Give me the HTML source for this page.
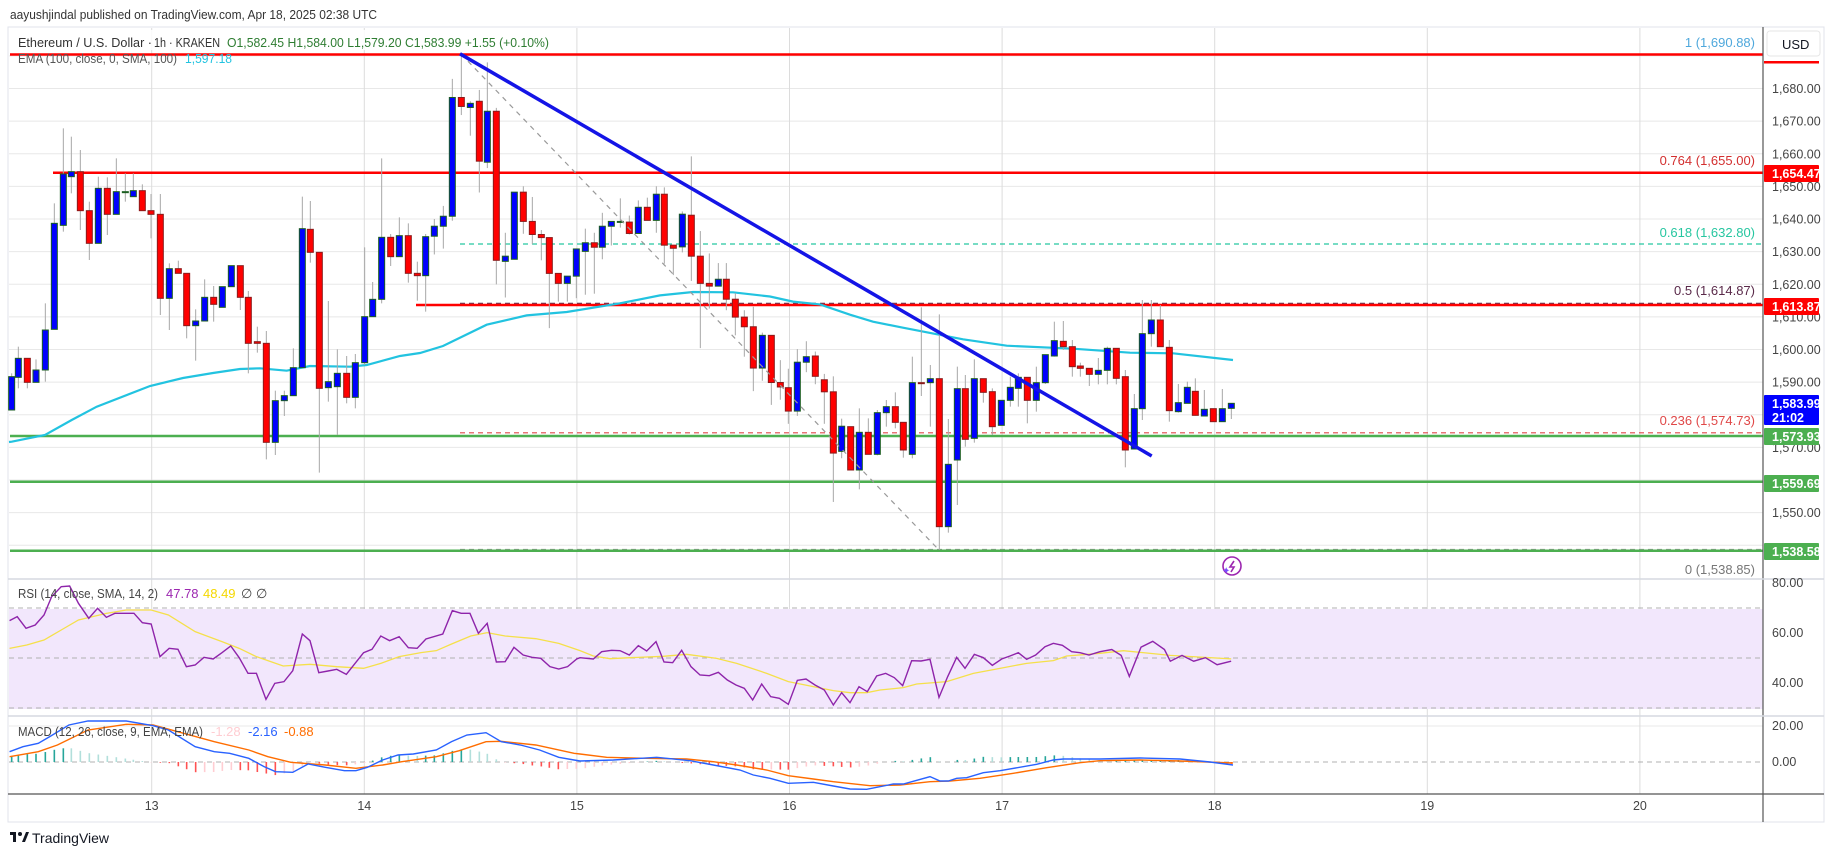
<!DOCTYPE html>
<html><head><meta charset="utf-8"><style>
html,body{margin:0;padding:0;background:#fff;}
svg{display:block;font-family:"Liberation Sans",sans-serif;}
</style></head><body>
<svg id="s" width="1835" height="857" viewBox="0 0 1835 857" xmlns="http://www.w3.org/2000/svg">
<rect width="1835" height="857" fill="#fff"/>
<text x="10" y="19" font-size="13" fill="#333" textLength="367" lengthAdjust="spacingAndGlyphs">aayushjindal published on TradingView.com, Apr 18, 2025 02:38 UTC</text>
<rect x="8" y="27" width="1816" height="795" fill="#fff" stroke="#e0e3eb"/>
<g id="grid"></g>
<rect x="9" y="609" width="1754" height="100" fill="#f2e7fc"/>
<g id="lines"></g>
<g id="candles"></g>
<g id="over"></g>
<line x1="1763" y1="27" x2="1763" y2="822" stroke="#555" stroke-width="1.2"/>
<line x1="8" y1="794" x2="1824" y2="794" stroke="#555" stroke-width="1.2"/>
<line x1="8" y1="579" x2="1824" y2="579" stroke="#d6d9e0" stroke-width="1.5"/>
<line x1="8" y1="716" x2="1824" y2="716" stroke="#d6d9e0" stroke-width="1.5"/>
<g id="axis" font-size="12.5" fill="#444"></g>
<rect x="12" y="30" width="540" height="20" fill="#fff" opacity="0.85"/>
<text x="18" y="47" font-size="13" fill="#333" textLength="134" lengthAdjust="spacingAndGlyphs">Ethereum / U.S. Dollar ·</text>
<text x="154" y="47" font-size="13" fill="#333" textLength="66" lengthAdjust="spacingAndGlyphs">1h · KRAKEN</text>
<text x="227" y="47" font-size="13" fill="#2e7d32" textLength="322" lengthAdjust="spacingAndGlyphs">O1,582.45  H1,584.00  L1,579.20  C1,583.99  +1.55 (+0.10%)</text>
<text x="18" y="63" font-size="13" fill="#555" textLength="159" lengthAdjust="spacingAndGlyphs">EMA (100, close, 0, SMA, 100)</text>
<text x="185" y="63" font-size="13" fill="#22c3e0" textLength="47" lengthAdjust="spacingAndGlyphs">1,597.18</text>
<text x="18" y="598" font-size="13" fill="#444" textLength="140" lengthAdjust="spacingAndGlyphs">RSI (14, close, SMA, 14, 2)</text>
<text x="166" y="598" font-size="13" fill="#9c27b0">47.78</text>
<text x="203" y="598" font-size="13" fill="#f5d800">48.49</text>
<text x="241" y="598" font-size="13" fill="#444">∅</text><text x="256" y="598" font-size="13" fill="#444">∅</text>
<text x="18" y="736" font-size="13" fill="#444" textLength="185" lengthAdjust="spacingAndGlyphs">MACD (12, 26, close, 9, EMA, EMA)</text>
<text x="211" y="736" font-size="13" fill="#ffcdd2">-1.28</text>
<text x="248" y="736" font-size="13" fill="#2962ff">-2.16</text>
<text x="284" y="736" font-size="13" fill="#ff6d00">-0.88</text>
<g font-size="13" text-anchor="end">
<text x="1755" y="47" fill="#4fa8dc">1 (1,690.88)</text>
<text x="1755" y="165" fill="#d32f2f">0.764 (1,655.00)</text>
<text x="1755" y="237" fill="#26c6a0">0.618 (1,632.80)</text>
<text x="1755" y="295" fill="#5a2a4a">0.5 (1,614.87)</text>
<text x="1755" y="425" fill="#e04848">0.236 (1,574.73)</text>
<text x="1755" y="574" fill="#777">0 (1,538.85)</text>
</g>
<g transform="translate(1232,566)" fill="none" stroke="#9c27b0" stroke-width="1.6"><circle r="9"/><path d="M2,-5 L-2,1 L2,1 L-1,6" /></g>
<text x="1222" y="574" font-size="10" fill="#7c4dff">✦</text>
<rect x="1767" y="31" width="53" height="25" rx="3" fill="#fff" stroke="#e6e6e6"/>
<text x="1782" y="49" font-size="13" fill="#131722">USD</text>
<g transform="translate(10,832)"><rect x="0" y="0" width="6" height="3" fill="#131722"/><rect x="3" y="0" width="3" height="10" fill="#131722"/><circle cx="10" cy="2" r="2" fill="#131722"/><path d="M12,10 L16,0 L19,0 L15,10Z" fill="#131722"/></g>
<text x="32" y="843" font-size="14" fill="#131722">TradingView</text>
</svg>
<script>
const NS="http://www.w3.org/2000/svg";
function el(p,t,a,txt){const e=document.createElementNS(NS,t);for(const k in a)e.setAttribute(k,a[k]);if(txt!==undefined)e.textContent=txt;document.getElementById(p).appendChild(e);return e;}
const PY=p=>349.5-(p-1600)*3.2625;
for(let p=1540;p<=1690;p+=10){el('grid','line',{x1:9,x2:1763,y1:PY(p),y2:PY(p),stroke:'#e8e8e8'});}
[633,683].forEach(y=>el('grid','line',{x1:9,x2:1763,y1:y,y2:y,stroke:'#e8e8e8'}));
el('grid','line',{x1:9,x2:1763,y1:726,y2:726,stroke:'#e8e8e8'});
for(let d=13;d<=20;d++){const x=151.7+(d-13)*212.6;el('grid','line',{x1:x,x2:x,y1:28,y2:794,stroke:'#dcdcdc'});
 el('axis','text',{x:x,y:810,'text-anchor':'middle'},String(d));}
[608,658,708].forEach(y=>el('lines','line',{x1:9,x2:1763,y1:y,y2:y,stroke:'#b0b0b0','stroke-dasharray':'5,4'}));
el('lines','line',{x1:9,x2:1763,y1:762,y2:762,stroke:'#b0b0b0','stroke-dasharray':'5,4'});
function hl(y,x1,c,w,da){el('lines','line',{x1:x1,x2:1763,y1:y,y2:y,stroke:c,'stroke-width':w,'stroke-dasharray':da||'none'});}
hl(54.5,460,'#64b5f6',1.2,'5,4');
hl(244,460,'#26c6a0',1.2,'5,4');
hl(303.3,460,'#5a2a4a',1.2,'5,4');
hl(432.8,460,'#e04848',1.2,'5,4');
hl(549.5,460,'#999',1.2,'5,4');
hl(54.5,10,'#ff0000',2.5);
hl(172.7,53,'#ff0000',2.5);
hl(305,416,'#ff0000',2.5);
hl(436,10,'#4caf50',2.5);
hl(481.7,10,'#4caf50',2.5);
hl(550.7,10,'#4caf50',2.5);
const ema=[[9,442],[11.7,441.7],[45,435],[71.7,420],[96.7,406.7],[150,386],[183,378],[213,373],[240,369],[260,368.3],[286.7,370.7],[310,366],[350,366.7],[366.7,365],[400,356],[420,353],[443,346],[486.7,324.7],[526.7,315.4],[566.7,312],[620,303.3],[660,295.4],[693,292],[733,292.3],[770,296.5],[793,301.6],[820,304.4],[850,314.7],[873,321.7],[903,327.7],[963,339.3],[1006.7,345.7],[1073,348.7],[1130,352.7],[1173,353.3],[1233,360]];
el('lines','polyline',{points:ema.map(p=>p.join(',')).join(' '),fill:'none',stroke:'#22c3e0','stroke-width':2.2});
const Z5=[[35,'b',1010,1110,1000,1110],[55,'b',955,1012,920,1045],[82,'r',955,1027,955,1045],[108,'b',990,1027,958,1027],[136,'b',870,990,790,1025],[163,'b',550,868,490,868],[190,'b',402,556,265,575],[214,'b',395,410,290,460],[241,'r',395,512,330,570],[268,'r',512,610,485,660],[295,'b',445,610,410,610],[322,'r',445,523,412,585],[349,'b',455,523,355,523],[376,'d',455,456,400,485],[400,'b',452,470,400,470],[427,'r',452,512,433,512],[453,'r',512,523,462,595],[481,'r',523,775,462,825],[508,'b',686,775,670,870],[535,'r',686,700,662,700],[560,'r',700,857,700,895],[587,'b',843,857,808,962],[614,'b',772,843,718,843],[641,'r',772,793,738,845],[667,'b',740,802,740,802],[694,'b',677,740,677,740],[721,'r',677,772,677,810],[745,'r',772,910,753,1000],[772,'r',905,910,860,938],[799,'r',910,1207,873,1258],[826,'b',1082,1207,1052,1245],[853,'b',1067,1082,1052,1128],[880,'b',983,1067,925,1067],[907,'b',566,983,470,983],[931,'r',568,637,483,668],[958,'r',637,1045,637,1298],[985,'b',1025,1043,783,1085],[1012,'b',1000,1040,928,1185],[1040,'r',1000,1072,948,1090],[1066,'b',968,1072,942,1105],[1094,'b',830,968,622,975],[1118,'b',778,830,726,830],[1145,'b',592,778,355,790],[1172,'r',592,650,582,678],[1198,'b',587,650,532,650],[1225,'r',587,700,550,728],[1252,'r',700,707,665,782],[1277,'b',590,707,582,815]];
const Z6=[[43,'b',541,570,520,623],[70,'b',512,541,482,606],[97,'b',167,512,113,525],[124,'r',167,193,40,218],[151,'b',184,196,178,278],[178,'r',178,352,145,443],[202,'b',207,355,65,372],[229,'r',207,640,197,710],[256,'b',628,643,560,748],[283,'b',442,637,442,637],[310,'r',442,527,425,563],[337,'r',527,565,456,593],[364,'r',565,574,552,640],[388,'r',574,678,574,837],[415,'r',678,707,678,760],[442,'b',686,707,686,760],[469,'b',607,686,607,750],[496,'b',589,614,548,740],[523,'r',589,602,560,737],[547,'b',541,602,502,637],[574,'b',527,541,527,597],[601,'d',527,528,460,545],[628,'r',529,562,510,565],[655,'b',486,562,466,562],[682,'r',486,524,458,524],[709,'b',448,524,425,560],[733,'r',448,596,428,650],[760,'r',596,605,596,683],[787,'b',506,601,498,617],[814,'r',509,628,338,700],[841,'r',628,707,555,895],[868,'r',707,715,620,780],[895,'b',695,715,648,715],[919,'r',695,753,648,785],[946,'r',753,805,735,858],[973,'r',805,833,785,920],[1000,'r',833,953,775,1020],[1027,'b',858,953,850,990],[1054,'r',858,995,858,1060],[1081,'r',995,1008,930,1045],[1105,'r',1010,1078,955,1115],[1132,'b',936,1078,898,1092],[1159,'b',920,936,875,965],[1186,'r',918,977,905,1000],[1213,'r',987,1022,970,1115],[1240,'r',1022,1200,977,1342],[1265,'b',1122,1195,1100,1215]];
const Z7=[[32,'r',620,750,620,750],[58,'b',637,750,565,808],[85,'r',637,703,595,703],[112,'b',578,703,570,706],[139,'b',560,578,540,620],[166,'r',560,607,517,625],[190,'r',607,690,607,713],[217,'b',488,703,410,715],[244,'r',488,491,262,528],[271,'b',476,488,435,620],[298,'r',476,920,283,990],[325,'b',733,920,597,938],[352,'b',506,720,440,855],[376,'r',506,658,465,680],[403,'b',476,655,418,668],[430,'r',476,517,476,548],[457,'r',515,620,505,645],[484,'b',541,616,540,616],[511,'b',502,541,470,560],[535,'b',472,505,460,560],[562,'r',472,541,472,610],[589,'b',488,541,440,575],[616,'b',404,488,404,492],[643,'b',362,408,305,410],[670,'r',364,380,303,390],[697,'r',380,440,360,470],[721,'r',438,445,428,470],[748,'r',445,463,445,498],[775,'b',451,463,414,493],[802,'b',385,451,380,493],[829,'r',385,475,385,493],[856,'r',470,690,450,742],[883,'b',566,687,522,687],[907,'b',341,566,240,600],[934,'b',300,341,240,380],[961,'r',300,380,255,380],[988,'r',382,572,360,605],[1015,'b',548,575,492,578],[1042,'b',502,550,485,550],[1066,'r',514,586,475,587],[1093,'b',568,588,510,588],[1120,'r',566,605,566,605],[1147,'b',566,605,507,600],[1174,'b',550,565,550,597]];
const C=[];
Z5.forEach(c=>C.push([c[0]/3,c[1],40+c[2]/3,40+c[3]/3,40+c[4]/3,40+c[5]/3]));
Z6.forEach(c=>C.push([420+c[0]/3,c[1],40+c[2]/2.905,40+c[3]/2.905,40+c[4]/2.905,40+c[5]/2.905]));
Z7.forEach(c=>C.push([840+c[0]/3,c[1],220+c[2]/3,220+c[3]/3,220+c[4]/3,220+c[5]/3]));
C.forEach(c=>{const [x,t,bt,bb,wt,wb]=c;
 el('candles','line',{x1:x,x2:x,y1:wt,y2:wb,stroke:'#a8a8a8','stroke-width':1});
 const fill=t==='b'?'#0000ff':(t==='r'?'#ff0000':'#1b5e20');const st=t==='b'?'#1b5e20':'#8b1a1a';
 el('candles','rect',{x:x-3,y:bt,width:6,height:Math.max(1,bb-bt),fill:fill,stroke:t==='d'?'#1b5e20':st,'stroke-width':1});});
el('over','line',{x1:461,y1:54,x2:939,y2:550,stroke:'#999','stroke-width':1.2,'stroke-dasharray':'5,5'});
el('over','line',{x1:460,y1:53.8,x2:1151.7,y2:456,stroke:'#1414e6','stroke-width':3.5});
const z3=(a)=>a.map(p=>[p[0]/2.613,560+p[1]/3]).filter(p=>p[0]<578);
const zb=(a)=>a.map(p=>[580+p[0]/3,580+p[1]/3]);
const d2t=(a)=>a.map(p=>[p[0]*1.1703,p[1]*1.1703]).filter(p=>p[0]>1102);
const rsi=z3([[25,182],[45,170],[68,205],[92,195],[115,165],[135,110],[160,80],[182,78],[205,130],[232,175],[255,145],[278,172],[300,160],[350,160],[372,188],[395,192],[418,290],[442,265],[465,268],[487,320],[510,315],[533,292],[557,297],[580,278],[603,258],[625,293],[648,340],[670,340],[695,418],[718,370],[742,365],[765,332],[790,222],[810,242],[833,338],[857,333],[880,328],[905,343],[950,278],[972,268],[995,228],[1018,242],[1043,230],[1067,263],[1090,265],[1113,237],[1157,222],[1182,152],[1205,160],[1228,160],[1250,220],[1273,190],[1297,306],[1320,305],[1343,262],[1367,285],[1390,292],[1413,295],[1437,320],[1460,327],[1483,320],[1507,297]])
.concat(zb([[0,233],[40,237],[65,215],[95,211],[120,212],[148,225],[175,197],[200,213],[228,185],[252,246],[278,248],[305,211],[333,260],[360,285],[388,287],[415,277],[442,300],[468,315],[493,325],[518,360],[545,312],[572,350],[598,355],[625,373],[652,301],[678,297],[705,315],[733,330],[760,375],[785,338],[810,368],[837,320],[862,335],[890,288],[917,280],[943,293],[968,317],[995,242],[1023,243],[1050,238],[1077,352],[1103,290],[1130,232],[1155,265],[1183,223],[1210,233],[1237,256],[1265,237],[1290,228],[1315,218],[1340,238],[1367,225],[1395,200],[1420,190],[1447,196],[1475,215],[1500,218],[1527,225],[1560,215]]))
.concat(d2t([[950,555],[958,560],[965,578],[975,553],[985,548],[995,555],[1000,565],[1010,560],[1020,565],[1030,562],[1040,568],[1052,565]]));
const rsma=z3([[25,265],[70,255],[115,240],[160,210],[205,180],[278,160],[330,150],[395,150],[440,165],[510,215],[580,245],[625,265],[670,290],[740,318],[810,313],[880,320],[950,325],[995,310],[1043,290],[1100,278],[1140,272],[1180,252],[1230,228],[1273,218],[1320,228],[1400,236],[1460,250]])
.concat(zb([[0,212],[40,228],[90,236],[150,233],[250,229],[320,223],[410,235],[470,250],[560,280],[625,305],[700,320],[760,332],[810,338],[860,338],[900,330],[970,323],[1010,312],[1100,305],[1180,280],[1260,265],[1340,250],[1420,242],[1460,228],[1560,220]]))
.concat(d2t([[960,556],[1000,560],[1052,563]]));
el('lines','polyline',{points:rsma.map(p=>p.join(',')).join(' '),fill:'none',stroke:'#f5e04a','stroke-width':1.3});
el('lines','polyline',{points:rsi.map(p=>p.join(',')).join(' '),fill:'none',stroke:'#8e24aa','stroke-width':1.4});
const mb=z3([[25,575],[60,560],[100,550],[130,530],[180,495],[230,483],[330,483],[400,497],[440,510],[510,560],[560,575],[600,580],[650,595],[690,620],[720,635],[765,637],[805,612],[850,622],[900,632],[930,632],[960,622],[1000,600],[1040,585],[1080,582],[1140,570],[1180,545],[1220,525],[1270,518],[1310,545],[1360,555],[1410,570],[1460,592],[1500,600]])
.concat(zb([[0,543],[100,540],[230,532],[330,542],[400,555],[480,570],[520,585],[570,595],[625,610],[700,607],[760,618],[810,627],[860,628],[940,612],[970,612],[1050,590],[1080,603],[1105,603],[1130,595],[1160,593],[1210,578],[1260,572],[1370,553],[1420,540],[1450,537],[1560,537]]))
.concat([[1140,758],[1180,759],[1210,762],[1233,765]]);
const mo=z3([[25,590],[100,575],[150,555],[230,510],[330,493],[400,495],[480,520],[560,545],[650,570],[700,590],[760,607],[850,615],[930,625],[1000,615],[1050,605],[1140,590],[1200,572],[1270,545],[1310,544],[1400,555],[1500,580]])
.concat(zb([[0,522],[80,532],[200,535],[320,537],[400,545],[470,555],[560,570],[625,587],[700,597],[760,605],[870,617],[960,615],[1050,605],[1110,603],[1200,595],[1300,580],[1400,563],[1500,548],[1560,542]]))
.concat([[1140,760],[1180,761],[1233,763]]);
function interp(a,x){if(x<=a[0][0])return a[0][1];for(let i=1;i<a.length;i++){if(a[i][0]>=x){const t=(x-a[i-1][0])/(a[i][0]-a[i-1][0]);return a[i-1][1]+t*(a[i][1]-a[i-1][1]);}}return a[a.length-1][1];}
let prev=0;
C.forEach(c=>{const x=c[0];const h=(interp(mo,x)-interp(mb,x));const pos=h>=0;const grow=Math.abs(h)>=Math.abs(prev);
 const col=pos?(grow?'#26a69a':'#b2dfdb'):(grow?'#ff5252':'#ffcdd2');prev=h;
 el('lines','rect',{x:x-0.8,y:pos?762-h:762,width:1.6,height:Math.abs(h),fill:col});});
el('lines','polyline',{points:mo.map(p=>p.join(',')).join(' '),fill:'none',stroke:'#ff6d00','stroke-width':1.4});
el('lines','polyline',{points:mb.map(p=>p.join(',')).join(' '),fill:'none',stroke:'#2962ff','stroke-width':1.4});
const hide=[1580,1560,1540];
for(let p=1550;p<=1680;p+=10){if(hide.includes(p))continue;el('axis','text',{x:1772,y:PY(p)+4.5},p.toLocaleString('en-US')+'.00');}
[['80.00',587],['60.00',637],['40.00',687],['20.00',730],['0.00',766]].forEach(a=>el('axis','text',{x:1772,y:a[1]},a[0]));
function tag(y,h,col,txt,txt2){el('axis','rect',{x:1764,y:y,width:55,height:h,fill:col,rx:1});
 el('axis','text',{x:1772,y:y+13,fill:'#fff','font-weight':'bold','font-size':12.5},txt);
 if(txt2)el('axis','text',{x:1772,y:y+27,fill:'#fff','font-weight':'bold','font-size':12.5},txt2);}
el('axis','rect',{x:1764,y:61,width:55,height:2.5,fill:'#ff0000'});
tag(165,17,'#ff0000','1,654.47');
tag(298,17,'#ff0000','1,613.87');
tag(395,30,'#0000ff','1,583.99','21:02');
tag(428,17,'#4caf50','1,573.93');
tag(475,17,'#4caf50','1,559.69');
tag(543,17,'#4caf50','1,538.58');
</script>
</body></html>
